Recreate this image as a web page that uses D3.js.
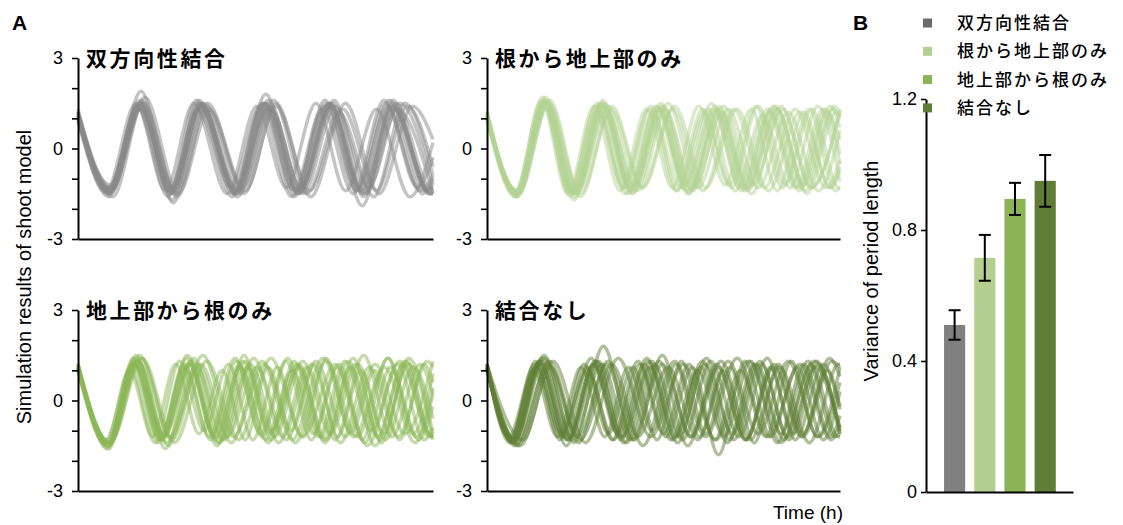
<!DOCTYPE html>
<html>
<head>
<meta charset="utf-8">
<script src="https://cdn.jsdelivr.net/npm/d3@7"></script>
<style>
  body { margin: 0; background: #fff; }
  svg { display: block; }
  text { font-family: "Liberation Sans", Arial, sans-serif; fill: #000; }
  .jp { font-family: "Noto Sans CJK JP", sans-serif; }
</style>
</head>
<body>
<svg id="chart" width="1123" height="525"></svg>
<script>
// Coupling conditions (panel titles, legend, bar categories)
const groups = ["双方向性結合", "根から地上部のみ", "地上部から根のみ", "結合なし"];
const traceColors = ["#8a8a8a", "#b3d394", "#8cb857", "#5f8036"];
const barColors = ["#808080", "#b3d091", "#8ab455", "#5f7d36"];
const legendColors = ["#6b6b6b", "#b3d091", "#8ab455", "#5f7d36"];

// Panel B: variance of period length (mean and error)
const varianceMeans = [0.51, 0.715, 0.895, 0.95];
const varianceErrors = [0.045, 0.07, 0.049, 0.079];
const varianceTicks = [0, 0.4, 0.8, 1.2];

// Panel A axes
const timeDomain = [0, 138];
const yTicks = [-3, -2, -1, 0, 1, 2, 3];
const yTickLabels = [-3, 0, 3];

// Simulated shoot-model traces: [time (h), value] turning points, flattened
const bothTraces = [
  [0,1.1, 12,-1.4, 24,1.5, 36,-1.5, 47.5,1.4, 61,-1.4, 73,1.5, 85,-1.4, 98,1.5, 110,-1.4, 122,1.4, 136,-1.4, 138,-1.3],
  [0,1.2, 13,-1.3, 25,1.6, 37.5,-1.4, 49,1.5, 63,-1.5, 75,1.3, 87.5,-1.5, 100,1.4, 113,-1.3, 125,1.5, 138,-1.2],
  [0,1.0, 11.5,-1.5, 23,1.4, 35,-1.6, 46,1.6, 59.5,-1.3, 71,1.4, 83,-1.6, 95,1.3, 107,-1.5, 119,1.6, 133,-1.4, 138,-0.9],
  [0,0.9, 12.5,-1.2, 24.5,1.3, 37,-1.3, 48,1.4, 62,-1.6, 74,1.6, 86.5,-1.3, 99,1.5, 111,-1.6, 123,1.3, 137,-1.5, 138,-1.5],
  [0,1.3, 13.5,-1.6, 26,1.7, 39,-1.5, 51,1.3, 65,-1.4, 77,1.5, 90,-1.4, 103,1.3, 116,-1.4, 128,1.4, 138,-0.6],
  [0,1.1, 11,-1.4, 22.5,1.5, 34,-1.4, 45,1.5, 58,-1.5, 69.5,1.4, 81,-1.3, 92.5,1.5, 104,-1.4, 116,1.3, 129,-1.6, 138,0.2],
  [0,1.0, 12,-1.3, 24,1.6, 36.5,-1.7, 48,1.5, 61.5,-1.4, 73.5,1.3, 86,-1.5, 98.5,1.4, 111,-1.5, 123.5,1.5, 137,-1.3, 138,-1.3],
  [0,1.2, 12.5,-1.5, 24,1.4, 36,-1.3, 47,1.6, 60.5,-1.5, 72.5,1.5, 84,-1.6, 96,1.6, 108.5,-1.4, 120.5,1.4, 134,-1.5, 138,-1.0],
  [0,1.1, 13,-1.4, 25,1.5, 38,-1.5, 50,1.4, 64,-1.3, 76,1.6, 89,-1.5, 101.5,1.2, 115,-1.6, 127,1.5, 138,-0.9],
  [0,0.9, 12,-1.6, 23.5,1.3, 35.5,-1.4, 46.5,1.3, 60,-1.6, 71.5,1.5, 84,-1.4, 96.5,1.5, 109,-1.3, 121,1.6, 135,-1.4, 138,-1.2],
  [0,1.2, 12,-1.3, 24,1.5, 36,-1.5, 48,1.5, 62,-1.4, 74.5,1.4, 87,-1.4, 99.5,1.6, 112,-1.5, 124,1.3, 138,-1.5],
  [0,1.0, 12.5,-1.4, 24.5,1.9, 37,-1.8, 48.5,1.4, 61,-1.5, 73,1.8, 85.5,-1.5, 98,1.4, 110.5,-1.9, 122.5,1.6, 136.5,-1.5, 138,-1.4],
  [0,1.1, 12,-1.5, 24,1.4, 36.5,-1.4, 47.5,1.5, 61,-1.3, 72,1.5, 84.5,-1.5, 96,1.4, 108,-1.4, 119.5,1.5, 132,-1.3, 138,-0.3],
  [0,1.1, 13,-1.4, 25.5,1.5, 38.5,-1.6, 50.5,1.5, 64.5,-1.5, 77,1.4, 90.5,-1.6, 104,1.5, 117,-1.5, 130,1.4, 138,0.3],
  [0,1.0, 12,-1.4, 24,1.5, 36.5,-1.5, 47.5,1.4, 61.5,-1.5, 73.5,1.5, 85.5,-1.4, 97.5,1.5, 110,-1.4, 122,1.5, 136.5,-1.4, 138,-1.35],
  [0,1.2, 12.5,-1.5, 24.5,1.4, 36,-1.4, 47,1.5, 61.5,-1.5, 74,1.4, 86,-1.5, 98,1.5, 110.5,-1.5, 122.5,1.4, 137,-1.5, 138,-1.5]
];

const rootToShootTraces = [
  [0,1.1, 11,-1.5, 21.3,1.6, 31.5,-1.5, 41.8,1.4, 52,-1.4, 62.3,1.3, 72.5,-1.3, 82.8,1.4, 93,-1.2, 103.3,1.3, 113.5,-1.4, 123.8,1.2, 134,-1.3, 138,-0.6],
  [0,1.0, 11.5,-1.6, 22,1.5, 32.5,-1.4, 43,1.5, 53.5,-1.3, 64,1.4, 74.5,-1.4, 85,1.2, 95.5,-1.3, 106,1.4, 116.5,-1.2, 127,1.3, 137.5,-1.3, 138,-1.3],
  [0,1.2, 11,-1.4, 21.8,1.7, 32.5,-1.6, 43.3,1.3, 54,-1.5, 64.8,1.2, 75.5,-1.3, 86.3,1.3, 97,-1.4, 107.8,1.1, 118.5,-1.3, 129.3,1.4, 138,-1.1],
  [0,1.1, 11.5,-1.5, 22.5,1.6, 33.5,-1.5, 44.5,1.5, 55.5,-1.4, 66.5,1.4, 77.5,-1.2, 88.5,1.3, 99.5,-1.4, 110.5,1.2, 121.5,-1.3, 132.5,1.3, 138,-0.2],
  [0,0.9, 12,-1.4, 23,1.5, 34,-1.7, 45,1.4, 56,-1.3, 67,1.3, 78,-1.4, 89,1.4, 100,-1.3, 111,1.3, 122,-1.4, 133,1.2, 138,0.3],
  [0,1.1, 11.5,-1.6, 22.8,1.5, 34,-1.4, 45.3,1.6, 56.5,-1.4, 67.8,1.3, 79,-1.5, 90.3,1.2, 101.5,-1.3, 112.8,1.4, 124,-1.2, 135.3,1.3, 138,1.0],
  [0,1.2, 12,-1.5, 23.3,1.6, 34.5,-1.5, 45.8,1.4, 57,-1.5, 68.3,1.4, 79.5,-1.3, 90.8,1.3, 102,-1.4, 113.3,1.3, 124.5,-1.4, 135.8,1.4, 138,1.2],
  [0,1.0, 12,-1.5, 23.5,1.5, 35,-1.5, 46.5,1.3, 58,-1.4, 69.5,1.3, 81,-1.3, 92.5,1.4, 104,-1.2, 115.5,1.3, 127,-1.3, 138,1.3],
  [0,1.1, 11.5,-1.4, 23,1.7, 34.5,-1.6, 46,1.5, 57.5,-1.3, 69,1.4, 80.5,-1.4, 92,1.2, 103.5,-1.5, 115,1.4, 126.5,-1.3, 138,1.2],
  [0,1.2, 12,-1.6, 23.8,1.5, 35.5,-1.4, 47.3,1.4, 59,-1.4, 70.8,1.5, 82.5,-1.3, 94.3,1.3, 106,-1.3, 117.8,1.2, 129.5,-1.4, 138,0.6],
  [0,1.0, 12.5,-1.5, 24.5,1.6, 36.5,-1.5, 48.5,1.3, 60.5,-1.3, 72.5,1.3, 84.5,-1.4, 96.5,1.3, 108.5,-1.3, 120.5,1.3, 132.5,-1.3, 138,-0.4],
  [0,1.1, 11.5,-1.5, 22.4,1.5, 33.3,-1.5, 44.2,1.5, 55.1,-1.5, 66,1.4, 76.9,-1.3, 87.8,1.5, 98.7,-1.3, 109.6,1.3, 120.5,-1.3, 131.4,1.3, 138,-0.5],
  [0,1.2, 12,-1.5, 23.1,1.4, 34.2,-1.5, 45.3,1.5, 56.4,-1.4, 67.5,1.3, 78.6,-1.5, 89.7,1.3, 100.8,-1.4, 111.9,1.4, 123,-1.3, 134.1,1.4, 138,0.7],
  [0,1.0, 11,-1.6, 22.4,1.6, 33.8,-1.4, 45.2,1.4, 56.6,-1.5, 68,1.5, 79.4,-1.4, 90.8,1.4, 102.2,-1.3, 113.6,1.3, 125,-1.5, 136.4,1.2, 138,1.1],
  [0,1.1, 11.5,-1.4, 21.9,1.5, 32.3,-1.5, 42.7,1.4, 53.1,-1.3, 63.5,1.3, 73.9,-1.4, 84.3,1.3, 94.7,-1.2, 105.1,1.4, 115.5,-1.3, 125.9,1.3, 136.3,-1.4, 138,-1.3],
  [0,1.1, 12,-1.5, 24.3,1.5, 36.5,-1.6, 48.8,1.4, 61,-1.3, 73.3,1.4, 85.5,-1.3, 97.8,1.3, 110,-1.4, 122.3,1.2, 134.5,-1.3, 138,-0.7]
];

const shootToRootTraces = [
  [0,1.1, 11.5,-1.5, 22,1.3, 32.5,-1.3, 43,1.2, 53.5,-1.2, 64,1.3, 74.5,-1.1, 85,1.2, 95.5,-1.3, 106,1.1, 116.5,-1.2, 127,1.3, 137.5,-1.2, 138,-1.2],
  [0,1.2, 12,-1.4, 22.8,1.4, 33.5,-1.2, 44.3,1.3, 55,-1.4, 65.8,1.1, 76.5,-1.2, 87.3,1.3, 98,-1.1, 108.8,1.2, 119.5,-1.3, 130.3,1.1, 138,-0.6],
  [0,1.0, 11.5,-1.4, 21.8,1.2, 32,-1.3, 42.3,1.4, 52.5,-1.1, 62.8,1.2, 73,-1.3, 83.3,1.0, 93.5,-1.2, 103.8,1.3, 114,-1.0, 124.3,1.2, 134.5,-1.3, 138,-0.9],
  [0,1.1, 12,-1.5, 23.3,1.3, 34.5,-1.4, 45.8,1.1, 57,-1.3, 68.3,1.4, 79.5,-1.2, 90.8,1.2, 102,-1.4, 113.3,1.1, 124.5,-1.2, 135.8,1.3, 138,1.1],
  [0,1.1, 11,-1.3, 20.5,1.1, 30,-1.4, 39.5,1.3, 49,-1.0, 58.5,1.2, 68,-1.3, 77.5,1.1, 87,-1.2, 96.5,1.4, 106,-1.1, 115.5,1.0, 125,-1.3, 134.5,1.2, 138,0.6],
  [0,1.2, 12.5,-1.4, 24.5,1.4, 36.5,-1.3, 48.5,1.5, 60.5,-1.2, 72.5,1.2, 84.5,-1.4, 96.5,1.3, 108.5,-1.2, 120.5,1.4, 132.5,-1.3, 138,-0.2],
  [0,1.0, 12,-1.6, 22,1.2, 33,-1.2, 43.5,1.2, 54,-1.5, 65,1.3, 75,-1.0, 86,1.1, 96.5,-1.3, 107.5,1.2, 118,-1.4, 128.5,1.4, 138,-1.1],
  [0,1.1, 11.5,-1.4, 21.5,1.3, 31.5,-1.3, 41.5,1.1, 51.5,-1.3, 61.5,1.3, 71.5,-1.2, 81.5,1.4, 91.5,-1.1, 101.5,1.2, 111.5,-1.4, 121.5,1.1, 131.5,-1.2, 138,0.4],
  [0,1.1, 12,-1.5, 23.5,1.3, 35,-1.5, 46.5,1.2, 58,-1.2, 69.5,1.1, 81,-1.3, 92.5,1.3, 104,-1.2, 115.5,1.2, 127,-1.1, 138,1.3],
  [0,1.2, 11,-1.3, 20,1.0, 29,-1.2, 38,1.2, 47,-1.1, 56,1.0, 65,-1.3, 74,1.1, 83,-1.0, 92,1.2, 101,-1.2, 110,1.0, 119,-1.1, 128,1.3, 137,-1.1, 138,-1.1],
  [0,1.0, 12.5,-1.4, 25,1.4, 37.5,-1.4, 50,1.3, 62.5,-1.3, 75,1.4, 87.5,-1.2, 100,1.2, 112.5,-1.5, 125,1.3, 137.5,-1.2, 138,-1.2],
  [0,1.1, 11.5,-1.5, 22.5,1.5, 33,-1.3, 43.5,1.3, 54.5,-1.4, 64.5,1.5, 75,-1.3, 86,1.2, 96,-1.4, 107,1.4, 117.5,-1.3, 128.5,1.2, 138,-1.3],
  [0,1.2, 12,-1.4, 23,1.3, 34,-1.6, 45,1.4, 56,-1.3, 67,1.2, 78,-1.4, 89,1.1, 100,-1.3, 111,1.5, 122,-1.2, 133,1.2, 138,0.2],
  [0,1.0, 11.5,-1.5, 21.4,1.2, 31.3,-1.4, 41.2,1.2, 51.1,-1.2, 61,1.4, 70.9,-1.1, 80.8,1.3, 90.7,-1.3, 100.6,1.1, 110.5,-1.3, 120.4,1.4, 130.3,-1.1, 138,0.9],
  [0,1.1, 12,-1.4, 23.9,1.5, 35.8,-1.2, 47.7,1.2, 59.6,-1.4, 71.5,1.3, 83.4,-1.3, 95.3,1.4, 107.2,-1.2, 119.1,1.1, 131,-1.4, 138,0.2],
  [0,1.2, 11.5,-1.6, 21.5,1.4, 32.5,-1.1, 42.5,1.5, 53.5,-1.3, 63,1.1, 74,-1.4, 84,1.3, 94.5,-1.2, 105,1.3, 115.5,-1.5, 126.5,1.2, 136.5,-1.2, 138,-1.1]
];

const uncoupledTraces = [
  [0,1.1, 10,-1.3, 20.8,1.2, 31.5,-1.3, 42.3,1.3, 53,-1.2, 63.8,1.1, 74.5,-1.4, 85.3,1.2, 96,-1.1, 106.8,1.3, 117.5,-1.2, 128.3,1.1, 138,-1.1],
  [0,1.2, 9,-1.4, 19,1.3, 29,-1.2, 39,1.1, 49,-1.3, 59,1.3, 69,-1.1, 79,1.2, 89,-1.3, 99,1.0, 109,-1.2, 119,1.3, 129,-1.2, 138,1.1],
  [0,1.0, 11,-1.5, 22.5,1.4, 34,-1.4, 45.5,1.8, 57,-1.3, 68.5,1.2, 80,-1.2, 91.5,1.3, 103,-1.3, 114.5,1.1, 126,-1.4, 137.5,1.2, 138,1.2],
  [0,1.1, 9.5,-1.2, 19,1.1, 28.5,-1.3, 38,1.2, 47.5,-1.1, 57,1.1, 66.5,-1.3, 76,1.3, 85.5,-1.1, 95,1.1, 104.5,-1.4, 114,1.2, 123.5,-1.1, 133,1.0, 138,-0.2],
  [0,1.2, 12,-1.4, 24.3,1.3, 36.5,-1.3, 48.8,1.2, 61,-1.5, 73.3,1.3, 85.5,-1.2, 97.8,1.4, 110,-1.2, 122.3,1.2, 134.5,-1.3, 138,-0.8],
  [0,1.1, 10,-1.3, 20.5,1.3, 31,-1.5, 41.5,1.2, 52,-1.2, 62.5,1.4, 73,-1.3, 83.5,1.1, 94,-1.4, 104.5,1.2, 115,-1.1, 125.5,1.3, 136,-1.2, 138,-1.1],
  [0,1.0, 10.5,-1.4, 21.5,1.4, 32.5,-1.2, 43.5,1.3, 54.5,-1.4, 65.5,1.2, 76.5,-1.3, 87.5,1.3, 98.5,-1.2, 109.5,1.4, 120.5,-1.3, 131.5,1.2, 138,-0.3],
  [0,1.2, 8.5,-1.2, 18.8,1.2, 29,-1.1, 39.3,1.0, 49.5,-1.3, 59.8,1.2, 70,-1.2, 80.3,1.1, 90.5,-1.8, 100.8,1.3, 111,-1.2, 121.3,1.1, 131.5,-1.3, 138,0.3],
  [0,1.1, 11,-1.3, 22.3,1.5, 33.5,-1.3, 44.8,1.2, 56,-1.3, 67.3,1.3, 78.5,-1.5, 89.8,1.2, 101,-1.3, 112.3,1.2, 123.5,-1.2, 134.8,1.3, 138,1.1],
  [0,1.1, 9,-1.3, 18.3,1.0, 27.5,-1.2, 36.8,1.1, 46,-1.2, 55.3,1.1, 64.5,-1.0, 73.8,1.2, 83,-1.2, 92.3,1.0, 101.5,-1.3, 110.8,1.1, 120,-1.1, 129.3,1.2, 138,-1.1],
  [0,1.0, 13,-1.5, 25.8,1.3, 38.5,-1.4, 51.3,1.4, 64,-1.2, 76.8,1.2, 89.5,-1.3, 102.3,1.3, 115,-1.4, 127.8,1.3, 138,-0.9],
  [0,1.2, 10.5,-1.4, 21.3,1.3, 32,-1.3, 42.8,1.3, 53.5,-1.4, 64.3,1.3, 75,-1.2, 85.8,1.4, 96.5,-1.3, 107.3,1.2, 118,-1.3, 128.8,1.3, 138,-1.0],
  [0,1.1, 9.5,-1.3, 19.9,1.2, 30.3,-1.2, 40.7,1.4, 51.1,-1.1, 61.5,1.2, 71.9,-1.3, 82.3,1.0, 92.7,-1.2, 103.1,1.3, 113.5,-1.4, 123.9,1.2, 134.3,-1.2, 138,-0.5],
  [0,1.1, 12,-1.5, 23.8,1.2, 35.5,-1.2, 47.3,1.3, 59,-1.2, 70.8,1.1, 82.5,-1.3, 94.3,1.3, 106,-1.1, 117.8,1.3, 129.5,-1.2, 138,0.6],
  [0,1.2, 14,-1.3, 24.9,1.1, 35.8,-1.4, 46.7,1.2, 57.6,-1.3, 68.5,1.5, 79.4,-1.2, 90.3,1.1, 101.2,-1.3, 112.1,1.1, 123,-1.2, 133.9,1.4, 138,0.8],
  [0,1.1, 10,-1.4, 20.6,1.3, 31.2,-1.3, 41.8,1.2, 52.4,-1.3, 63,1.3, 73.6,-1.2, 84.2,1.3, 94.8,-1.3, 105.4,1.2, 116,-1.3, 126.6,1.2, 137.2,-1.2, 138,-1.2]
];

const svg = d3.select("#chart");
const toPairs = arr => d3.range(0, arr.length, 2).map(i => [arr[i], arr[i + 1]]);

function styleAxis(g) {
  g.select(".domain").attr("stroke", "#000").attr("stroke-width", 2);
  g.selectAll(".tick line").attr("stroke", "#000").attr("stroke-width", 1.6);
  g.selectAll(".tick text").attr("font-size", 18).attr("font-family", "Liberation Sans, Arial, sans-serif").attr("fill", "#000");
}

// ---- Panel A: four ensembles of simulated traces ----
const panels = [
  { traces: bothTraces,        idx: 0, left: 78,  right: 433, top: 58,  bottom: 239 },
  { traces: rootToShootTraces, idx: 1, left: 487, right: 840, top: 58,  bottom: 239 },
  { traces: shootToRootTraces, idx: 2, left: 78,  right: 433, top: 310, bottom: 491 },
  { traces: uncoupledTraces,   idx: 3, left: 487, right: 840, top: 310, bottom: 491 }
];

panels.forEach(p => {
  const x = d3.scaleLinear().domain(timeDomain).range([p.left, p.right]);
  const y = d3.scaleLinear().domain([-3, 3]).range([p.bottom, p.top]);
  const g = svg.append("g");

  const line = d3.line()
    .x(d => x(d[0]))
    .y(d => y(d[1]))
    .curve(d3.curveMonotoneX);

  g.append("g")
    .selectAll("path")
    .data(p.traces)
    .join("path")
    .attr("d", t => line(toPairs(t)))
    .attr("fill", "none")
    .attr("stroke", traceColors[p.idx])
    .attr("stroke-width", 3.4)
    .attr("stroke-opacity", 0.5)
    .attr("stroke-linejoin", "round");

  g.append("g")
    .attr("transform", `translate(${p.left},0)`)
    .call(d3.axisLeft(y)
      .tickValues(yTicks)
      .tickSize(6)
      .tickSizeOuter(0)
      .tickPadding(9)
      .tickFormat(d => yTickLabels.includes(d) ? String(d) : ""))
    .call(styleAxis);

  g.append("g")
    .attr("transform", `translate(0,${y(-3)})`)
    .call(d3.axisBottom(x).tickValues([]).tickSizeOuter(0))
    .call(styleAxis);

  g.append("text")
    .attr("class", "jp")
    .attr("x", p.left + 8)
    .attr("y", p.top + 8)
    .attr("font-size", 21)
    .attr("font-weight", "bold")
    .attr("letter-spacing", 2.6)
    .text(groups[p.idx]);
});

svg.append("text")
  .attr("transform", "translate(31,277) rotate(-90)")
  .attr("text-anchor", "middle")
  .attr("font-size", 20)
  .text("Simulation results of shoot model");

svg.append("text")
  .attr("x", 843)
  .attr("y", 519)
  .attr("text-anchor", "end")
  .attr("font-size", 19)
  .text("Time (h)");

svg.append("text").attr("x", 12).attr("y", 30).attr("font-size", 21).attr("font-weight", "bold").text("A");
svg.append("text").attr("x", 853).attr("y", 30).attr("font-size", 21).attr("font-weight", "bold").text("B");

// ---- Panel B: variance of period length ----
const xb = d3.scaleBand().domain(groups).range([939.5, 1060.3]).paddingInner(0.3).paddingOuter(0.15);
const yb = d3.scaleLinear().domain([0, 1.2]).range([492, 99]);
const gb = svg.append("g");

gb.selectAll("rect.bar")
  .data(groups)
  .join("rect")
  .attr("class", "bar")
  .attr("x", d => xb(d))
  .attr("width", xb.bandwidth())
  .attr("y", (d, i) => yb(varianceMeans[i]))
  .attr("height", (d, i) => yb(0) - yb(varianceMeans[i]))
  .attr("fill", (d, i) => barColors[i]);

const errG = gb.selectAll("g.err")
  .data(groups)
  .join("g")
  .attr("class", "err")
  .attr("stroke", "#000")
  .attr("stroke-width", 2);

errG.append("line")
  .attr("x1", d => xb(d) + xb.bandwidth() / 2)
  .attr("x2", d => xb(d) + xb.bandwidth() / 2)
  .attr("y1", (d, i) => yb(varianceMeans[i] - varianceErrors[i]))
  .attr("y2", (d, i) => yb(varianceMeans[i] + varianceErrors[i]));

[-1, 1].forEach(s => {
  errG.append("line")
    .attr("x1", d => xb(d) + xb.bandwidth() / 2 - 6)
    .attr("x2", d => xb(d) + xb.bandwidth() / 2 + 6)
    .attr("y1", (d, i) => yb(varianceMeans[i] + s * varianceErrors[i]))
    .attr("y2", (d, i) => yb(varianceMeans[i] + s * varianceErrors[i]));
});

gb.append("g")
  .attr("transform", "translate(926,0)")
  .call(d3.axisLeft(yb)
    .tickValues(varianceTicks)
    .tickSize(5)
    .tickSizeOuter(0)
    .tickPadding(4)
    .tickFormat(d => d === 0 ? "0" : d.toFixed(1)))
  .call(styleAxis);

gb.append("g")
  .attr("transform", `translate(0,${yb(0)})`)
  .call(d3.axisBottom(d3.scaleLinear().range([926, 1073])).tickValues([]).tickSizeOuter(0))
  .call(styleAxis);

svg.append("text")
  .attr("transform", "translate(878,271) rotate(-90)")
  .attr("text-anchor", "middle")
  .attr("font-size", 20)
  .text("Variance of period length");

// Legend
const legend = svg.append("g");
const legendRows = legend.selectAll("g")
  .data(groups)
  .join("g")
  .attr("transform", (d, i) => `translate(923,${23 + i * 28.3})`);

legendRows.append("rect")
  .attr("x", 0).attr("y", -4.5)
  .attr("width", 9).attr("height", 9)
  .attr("fill", (d, i) => legendColors[i]);

legendRows.append("text")
  .attr("class", "jp")
  .attr("x", 34)
  .attr("y", 6)
  .attr("font-size", 17)
  .attr("font-weight", 500)
  .attr("letter-spacing", 2)
  .text(d => d);
</script>
</body>
</html>
